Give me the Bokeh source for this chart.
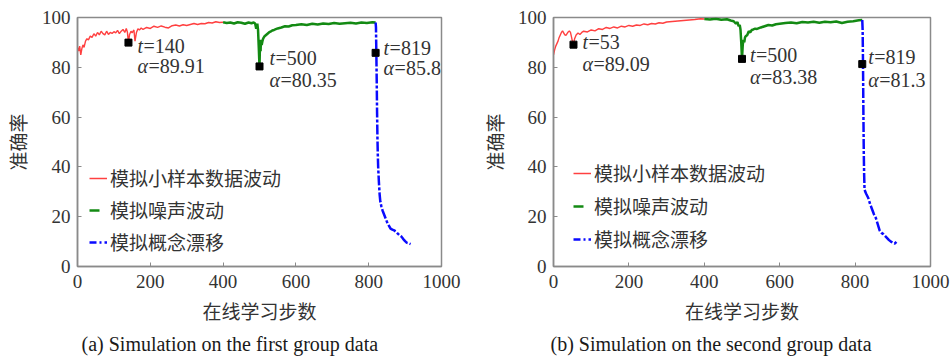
from bokeh.plotting import figure
from bokeh.models import Range1d, Legend, LegendItem, Title
from bokeh.layouts import row
from bokeh.embed import file_html
from bokeh.resources import INLINE

# ---------------- data: panel (a) ----------------
a_small_x = [0, 3, 6, 9, 12, 15, 18, 22, 26, 30, 35, 40, 45, 50, 55, 60, 65, 70, 75, 80,
             85, 90, 95, 100, 105, 110, 115, 120, 125, 130, 134, 137, 140, 143, 147, 150, 155, 158, 162, 166,
             170, 175, 180, 190, 200, 210, 220, 230, 240, 250, 260, 270, 280, 290, 300, 310, 320, 330, 340, 350,
             360, 370, 380, 390, 400]
a_small_y = [88, 86.5, 88.5, 85, 87.5, 89, 88, 90.5, 91.5, 91, 92.5, 92, 93.5, 92.5, 94, 93, 94.5, 93.5, 93, 94.5,
             93.2, 94, 93.6, 94.3, 93.8, 94.8, 93.5, 94.5, 95.2, 94, 95.6, 94.2, 89.91, 93.2, 94.5, 93.8, 95, 90.5, 94, 95.5,
             95, 95.8, 95.2, 96, 95.6, 96.5, 96, 96.6, 96.1, 95.8, 96.7, 97, 96.6, 97.1, 96.8, 97.2, 97.6, 97.2, 97.6, 97.5,
             98, 97.8, 98.3, 98, 98.1]
a_noise_x = [400, 410, 420, 430, 440, 450, 460, 470, 478, 484, 488, 491, 494, 496, 498, 500,
             501, 502, 503, 504, 506, 508, 510, 514, 518, 522, 526, 530, 535, 540, 550, 560,
             570, 580, 590, 600, 615, 630, 645, 660, 675, 690, 705, 720, 735, 750, 765, 780,
             795, 810, 819]
a_noise_y = [98.1, 97.8, 98, 97.6, 98.1, 97.9, 97.5, 98, 97.7, 98, 97.6, 95.5, 97.5, 95, 88, 80.35,
             87, 90, 86.5, 91, 89, 90.5, 91.5, 92.5, 93, 93.5, 94, 94.3, 94.8, 95, 95.6, 96,
             96.5, 96.4, 96.9, 97, 97.3, 97, 97.5, 97.2, 97.6, 97.4, 97.8, 97.5, 97.7, 97.9, 97.6, 98,
             97.8, 98.1, 98]
a_drift_x = [819, 820, 821, 822, 823, 824, 825, 826, 828, 830, 832, 835, 838, 842, 846, 850, 855, 860, 865, 870,
             875, 880, 885, 890, 895, 900, 905, 910, 915]
a_drift_y = [98, 96, 85.8, 75, 62, 52, 45, 40, 34, 29, 26, 24, 22.5, 21, 19.5, 18, 16.5, 15.2, 14.8, 14.5,
             14, 13.2, 12.5, 12, 11, 10.2, 9.5, 9.3, 9]
a_mark_t = [140, 500, 819]
a_mark_acc = [89.91, 80.35, 85.8]

# ---------------- data: panel (b) ----------------
b_small_x = [0, 3, 6, 9, 12, 15, 18, 21, 24, 27, 30, 33, 36, 39, 42, 45, 48, 50, 53, 56,
             60, 65, 70, 75, 80, 90, 100, 110, 120, 130, 140, 150, 160, 170, 180, 190, 200, 210, 220, 230,
             240, 250, 260, 270, 280, 290, 300, 315, 330, 345, 360, 375, 390, 400]
b_small_y = [85, 87, 88.5, 89.5, 90.5, 92, 93, 94, 94.6, 93.8, 93, 92.8, 93.5, 94.2, 94.6, 94, 92, 90.5, 89.09, 91.5,
             93, 93.8, 93.2, 94, 94.5, 94.2, 95, 94.6, 95.5, 95.2, 96, 95.6, 96.2, 95.8, 96.5, 96.2, 96.8, 96.5, 97, 96.8,
             97.4, 97.1, 97.6, 97.4, 97.9, 97.7, 98.2, 98.4, 98.6, 98.8, 99, 99.2, 99.5, 99.4]
b_noise_x = [400, 415, 430, 445, 460, 470, 478, 484, 488, 491, 494, 496, 498, 500, 502, 504, 506, 508, 510, 514,
             518, 522, 526, 530, 535, 540, 550, 560, 570, 580, 590, 600, 615, 630, 645, 660, 675, 690, 705, 720,
             735, 750, 765, 780, 795, 810, 819]
b_noise_y = [99.4, 99.2, 99.5, 99.1, 99.3, 98.8, 98.5, 97.5, 98.2, 96.5, 97, 95.2, 90, 83.38, 89, 91, 90, 92, 92.5, 93,
             94.5, 94, 95, 95.2, 95.5, 95.4, 96, 96.5, 97, 96.8, 97.3, 97.5, 97.8, 98, 97.7, 98.2, 98, 98.3, 97.9, 98.3,
             98.1, 98.4, 97.8, 98.3, 98.5, 98.9, 99]
b_drift_x = [819, 820, 821, 822, 823, 824, 825, 827, 830, 835, 840, 845, 850, 855, 860, 865, 870, 875, 880,
             885, 890, 895, 900, 905, 910]
b_drift_y = [99, 95, 81.3, 62, 46, 37, 31, 30, 29, 27.5, 25, 23, 21, 19.5, 17, 14.5, 13.5, 13, 12.2,
             11.4, 10.6, 10, 9.5, 9.2, 10]
b_mark_t = [53, 500, 819]
b_mark_acc = [89.09, 83.38, 81.3]

# ---------------- text ----------------
series_names = ["模拟小样本数据波动", "模拟噪声波动", "模拟概念漂移"]
x_label = "在线学习步数"
y_label = "准确率"
captions = ["(a) Simulation on the first group data", "(b) Simulation on the second group data"]
x_ticks = [0, 200, 400, 600, 800, 1000]
y_ticks = [0, 20, 40, 60, 80, 100]

# ---------------- styles ----------------
RED = "#ff4040"
GREEN = "#138a13"
BLUE = "#0a0aff"
TXT = "#333333"
GRID = "#8a8a8a"
SERIF = "Liberation Serif"
CJK = "Noto Sans CJK SC"
NAN = float("nan")


def panel(sx, sy, nx, ny, dx, dy, mt, ma, caption, lay):
    p = figure(width=476, height=361, output_backend="svg", toolbar_location=None,
               x_range=Range1d(0, 1000), y_range=Range1d(0, 100),
               min_border_left=lay["l"], min_border_right=lay["r"],
               min_border_top=lay["t"], min_border_bottom=lay["b"])
    p.title.visible = False
    p.grid.visible = False
    p.outline_line_color = GRID
    p.outline_line_width = 1.5
    for ax in (p.xaxis[0], p.yaxis[0]):
        ax.axis_line_color = GRID
        ax.axis_line_width = 1.5
        ax.major_tick_in = 4
        ax.major_tick_out = 0
        ax.major_tick_line_color = GRID
        ax.minor_tick_line_color = None
        ax.major_label_text_font = SERIF
        ax.major_label_text_font_size = "19px"
        ax.major_label_text_color = TXT
        ax.axis_label_text_font = CJK
        ax.axis_label_text_font_size = "19px"
        ax.axis_label_text_font_style = "normal"
        ax.axis_label_text_color = TXT
    p.xaxis.ticker = x_ticks
    p.yaxis.ticker = y_ticks
    p.xaxis.axis_label = x_label
    p.yaxis.axis_label = y_label
    p.xaxis.major_label_standoff = 8
    p.xaxis.axis_label_standoff = 6
    p.yaxis.major_label_standoff = 7
    p.yaxis.axis_label_standoff = lay["yls"]

    p.line(sx, sy, line_color=RED, line_width=1.4)
    p.line(nx, ny, line_color=GREEN, line_width=2.5)
    p.line(dx, dy, line_color=BLUE, line_width=2.5, line_dash="10 2 3 2")

    # legend-only renderers (no visible data)
    l1 = p.line([NAN, NAN], [NAN, NAN], line_color=RED, line_width=1.5)
    l2 = p.line([NAN, NAN], [NAN, NAN], line_color=GREEN, line_width=2.5, line_dash="10 20")
    l3 = p.line([NAN, NAN], [NAN, NAN], line_color=BLUE, line_width=2.5, line_dash="7 3 2 3")
    leg = Legend(items=[LegendItem(label=series_names[0], renderers=[l1]),
                        LegendItem(label=series_names[1], renderers=[l2]),
                        LegendItem(label=series_names[2], renderers=[l3])],
                 location=lay["leg"], padding=0, margin=0, spacing=lay["sp"],
                 glyph_width=18, glyph_height=22, label_height=22, label_standoff=3,
                 label_text_font=CJK, label_text_font_size="19px", label_text_color=TXT,
                 background_fill_alpha=0, border_line_alpha=0)
    p.add_layout(leg)

    p.scatter(mt, ma, marker="square", size=7, color="black")
    for i, (t, a) in enumerate(zip(mt, ma)):
        xo, ty, ay = lay["ann"][i]
        common = dict(text_font_size="20px", text_color=TXT, text_baseline="middle",
                      text_align="left")
        p.text([t], [a], text=["t"], x_offset=xo, y_offset=ty, text_font_style="italic",
               text_font={"value": SERIF}, **common)
        p.text([t], [a], text=["=" + str(t)], x_offset=xo + 6, y_offset=ty,
               text_font={"value": SERIF}, **common)
        p.text([t], [a], text=["α"], x_offset=xo, y_offset=ay, text_font_style="italic",
               text_font={"value": SERIF}, **common)
        p.text([t], [a], text=["=" + str(a)], x_offset=xo + 11, y_offset=ay,
               text_font={"value": SERIF}, **common)

    cap = Title(text=caption, align="left", offset=lay["capoff"], text_font=SERIF,
                text_font_size="20px", text_font_style="normal", text_color="#1a1a1a",
                standoff=8)
    p.add_layout(cap, "below")
    return p


lay_a = dict(l=75, r=35, t=17, b=95, yls=8, leg=(12, 11), sp=5, capoff=4,
             ann=[(9, 3, 23), (10, -8, 14), (8, -5, 15)])
lay_b = dict(l=77, r=22, t=15, b=93, yls=7, leg=(20, 14), sp=6, capoff=-3,
             ann=[(9, -3, 19), (8, -4, 18), (6, -7, 16)])

p1 = panel(a_small_x, a_small_y, a_noise_x, a_noise_y, a_drift_x, a_drift_y,
           a_mark_t, a_mark_acc, captions[0], lay_a)
p2 = panel(b_small_x, b_small_y, b_noise_x, b_noise_y, b_drift_x, b_drift_y,
           b_mark_t, b_mark_acc, captions[1], lay_b)

layout = row(p1, p2)
open("out.html", "w").write(file_html(layout, INLINE))
